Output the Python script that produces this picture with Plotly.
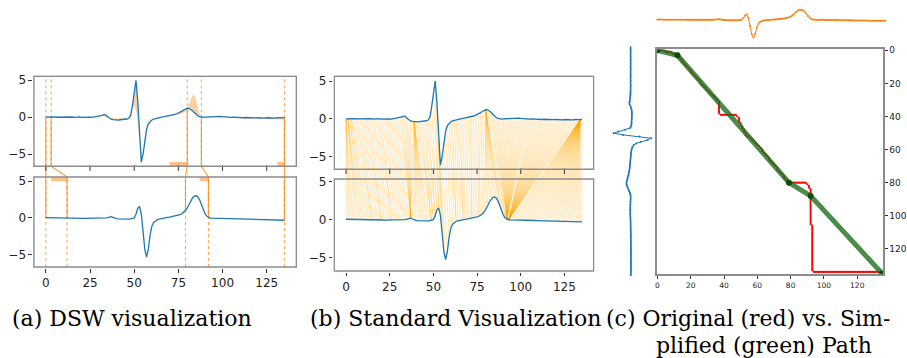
import numpy as np
import plotly.graph_objects as go

# ---------------- data ----------------
series_a = [0.0, 0.02, -0.03, 0.01, -0.02, 0.03, -0.01, 0.0, -0.04, 0.02,
            -0.02, 0.01, 0.03, -0.03, 0.0, 0.02, -0.02, 0.01, -0.01, 0.03,
            -0.02, 0.0, 0.02, -0.03, 0.01, 0.0, -0.02, 0.02, 0.04, 0.06,
            0.1, 0.17, 0.25, 0.38, 0.3, 0.05, -0.15, -0.28, -0.33, -0.38,
            -0.36, -0.4, -0.35, -0.33, -0.3, -0.32, -0.25, -0.15, 0.2, 1.6,
            3.6, 5.0, 2.2, -2.6, -6.1, -5.0, -3.0, -1.6, -0.9, -0.55,
            -0.38, -0.25, -0.18, -0.1, -0.08, -0.02, 0.03, 0.06, 0.1, 0.15,
            0.2, 0.26, 0.3, 0.38, 0.46, 0.55, 0.68, 0.82, 0.97, 1.12,
            1.22, 1.2, 1.08, 0.88, 0.62, 0.38, 0.18, 0.06, 0.0, -0.03,
            0.01, 0.03, 0.05, 0.06, 0.1, 0.12, 0.1, 0.13, 0.09, 0.11,
            0.07, 0.04, 0.06, 0.02, 0.0, -0.03, 0.01, -0.02, -0.05, -0.03,
            -0.06, -0.04, -0.08, -0.05, -0.07, -0.1, -0.06, -0.09, -0.07, -0.1,
            -0.08, -0.11, -0.07, -0.1, -0.12, -0.08, -0.1, -0.07, -0.11, -0.09,
            -0.12, -0.08, -0.1, -0.06, -0.09, -0.02]

series_b = [0.05, 0.05, 0.04, 0.04, 0.03, 0.03, 0.02, 0.02, 0.01, 0.01,
            0.0, 0.0, -0.01, -0.01, -0.02, -0.02, -0.03, -0.03, -0.04, -0.04,
            -0.05, -0.05, -0.06, -0.06, -0.07, -0.07, -0.07, -0.08, -0.08, -0.08,
            -0.08, -0.07, -0.06, -0.04, 0.0, 0.05, 0.12, 0.18, 0.08, -0.05,
            -0.1, -0.13, -0.15, -0.16, -0.17, -0.17, -0.17, -0.16, -0.14, -0.1,
            0.0, 0.5, 1.3, 1.55, 0.6, -1.8, -4.3, -5.3, -4.2, -2.3,
            -1.1, -0.6, -0.38, -0.25, -0.17, -0.1, -0.05, 0.0, 0.03, 0.07,
            0.1, 0.14, 0.18, 0.23, 0.28, 0.35, 0.44, 0.56, 0.75, 1.0,
            1.35, 1.8, 2.3, 2.7, 2.95, 3.0, 2.85, 2.45, 1.85, 1.15,
            0.6, 0.25, 0.06, -0.02, -0.04, -0.04, -0.03, -0.03, -0.03, -0.04,
            -0.04, -0.05, -0.06, -0.07, -0.08, -0.09, -0.1, -0.11, -0.12, -0.13,
            -0.14, -0.15, -0.16, -0.17, -0.18, -0.19, -0.2, -0.2, -0.21, -0.22,
            -0.23, -0.23, -0.24, -0.25, -0.25, -0.26, -0.27, -0.27, -0.28, -0.28,
            -0.29, -0.29, -0.3, -0.3, -0.3, -0.31]

# warping path: index into series_a (path_a) paired with index into series_b (path_b)
path_a = [0, 0, 0, 0, 0, 1, 1, 1, 1, 2, 2, 3, 3,
          4, 5, 6, 7, 8, 9, 10, 11, 12, 13, 14, 15, 16, 17, 18, 19, 20, 21, 22, 23, 24, 25, 26, 27, 28, 29, 30, 31,
          32, 33, 34, 35, 36, 37, 38,
          39, 39, 39, 39, 39, 39, 39, 39, 39, 39,
          40, 41, 42, 43, 44, 45, 46,
          47, 48, 49, 50, 51, 52, 52, 53, 54, 55, 56, 57, 58,
          59, 60, 61, 62, 63, 64, 65, 66, 67, 68, 69, 70, 71, 72, 73, 74, 75, 76, 77, 78, 79, 80,
          80, 80, 80, 80, 80, 80, 80, 80, 80, 80,
          81, 82, 83, 84,
          85, 86, 87, 88, 89, 90, 91, 92, 93, 94, 95, 96, 97, 98, 99, 100, 101, 102, 103, 104, 105,
          106, 107, 108, 109, 110, 111, 112, 113, 114, 115, 116, 117, 118, 119, 120, 121, 122, 123, 124, 125,
          126, 127, 128, 129, 130, 131, 132, 133,
          134, 134, 134, 134, 134, 134, 134, 134, 134, 134, 134, 134, 134, 134, 134, 134, 134, 134, 134, 134,
          134, 134, 134, 134, 134, 134, 134, 134, 134, 134, 134, 134, 134, 134, 134, 134, 134, 134, 134, 134, 134,
          135]
path_b = [0, 1, 2, 3, 4, 5, 6, 7, 8, 9, 10, 11, 12,
          13, 14, 15, 15, 16, 17, 18, 19, 20, 20, 21, 22, 23, 24, 25, 26, 26, 27, 28, 29, 30, 31, 32, 33, 34, 35, 36, 37,
          37, 37, 37, 37, 37, 37, 37,
          38, 39, 40, 41, 42, 43, 44, 45, 46, 47,
          48, 49, 49, 49, 50, 50, 51,
          51, 52, 52, 53, 53, 54, 55, 56, 57, 58, 59, 60, 61,
          62, 63, 63, 64, 65, 66, 67, 67, 68, 69, 70, 71, 72, 72, 73, 74, 75, 76, 76, 77, 78, 79,
          80, 81, 82, 83, 84, 85, 86, 87, 88, 89,
          90, 91, 91, 92,
          92, 92, 92, 92, 92, 92, 92, 92, 92, 92, 92, 92, 92, 92, 92, 92, 92, 92, 92, 92, 92,
          93, 93, 93, 93, 93, 93, 93, 93, 93, 93, 93, 93, 93, 93, 93, 93, 93, 93, 93, 93,
          93, 93, 93, 93, 93, 93, 93, 93,
          94, 95, 96, 97, 98, 99, 100, 101, 102, 103, 104, 105, 106, 107, 108, 109, 110, 111, 112, 113,
          114, 115, 116, 117, 118, 119, 120, 121, 122, 123, 124, 125, 126, 127, 128, 129, 130, 131, 132, 133, 134,
          135]

# simplified path vertices (index into a, index into b)
simp_a = [0, 3, 80, 88, 135]
simp_b = [0, 12, 79, 92, 135]

xticks_ab = [0, 25, 50, 75, 100, 125]
yticks_ab = [-5, 0, 5]
yticklabels_ab = ["\u22125", "0", "5"]
ticks_c = [0, 20, 40, 60, 80, 100, 120]
captions = ["(a) DSW visualization", "(b) Standard Visualization",
            "(c) Original (red) vs. Sim-", "plified (green) Path"]

assert len(series_a) == 136 and len(series_b) == 136 and len(path_a) == len(path_b)

# ---------------- layout helpers ----------------
W, H = 907, 358
BLUE = "#1f77b4"
ORANGE_L = "rgba(255,127,14,0.75)"
FRAME = "#8c8c8c"
TICKFONT = dict(family="DejaVu Sans", size=12, color="#222")


def axis_geom(p0, p1, d0, d1, pad=1.0, vertical=False):
    """frame in pixels p0..p1 shows data d0..d1; add pad pixels each side"""
    s = (p1 - p0) / (d1 - d0)
    rng = [d0 - pad / s, d1 + pad / s]
    if vertical:  # p0 = top pixel (d1 value at top)
        dom = [1 - (p1 + pad) / H, 1 - (p0 - pad) / H]
    else:
        dom = [(p0 - pad) / W, (p1 + pad) / W]
    return dom, rng


fig = go.Figure()
shapes = []

xa = np.arange(len(series_a))
xb = np.arange(len(series_b))
A = np.array(series_a)
B = np.array(series_b)

# ================= panel (a) DSW =================
OFF_A = 13.65
A_BOT = (-6.65, 5.55)
A_TOP = (7.0, 19.2)
domx_a, rngx_a = axis_geom(32, 295, -6.75, 141.75)
domy_a, rngy_a = axis_geom(73, 266, -6.65, 19.2, vertical=True)

# fill between top series and warped bottom series
xw = np.interp(xb, simp_b, simp_a)
poly_x = list(xa) + list(xw[::-1])
poly_y = list(A + OFF_A) + list((B + OFF_A)[::-1])
fig.add_trace(go.Scatter(x=poly_x, y=poly_y, fill="toself", mode="lines",
                         line=dict(width=0), fillcolor="rgba(255,150,60,0.45)",
                         xaxis="x", yaxis="y", hoverinfo="skip", showlegend=False))

# bands showing extra length of the longer side in each segment
for k in range(len(simp_a) - 1):
    da = simp_a[k + 1] - simp_a[k]
    db = simp_b[k + 1] - simp_b[k]
    if da > db:
        bx = [simp_a[k + 1] - (da - db), simp_a[k + 1]]
        by = [A_TOP[0] + 0.3] * 2
    else:
        bx = [simp_b[k + 1] - (db - da), simp_b[k + 1]]
        by = [A_BOT[1] - 0.3] * 2
    fig.add_trace(go.Scatter(x=bx, y=by, mode="lines",
                             line=dict(color="rgba(255,140,40,0.55)", width=4),
                             xaxis="x", yaxis="y", hoverinfo="skip", showlegend=False))

# dotted full-height lines and solid connectors
for ia, jb in zip(simp_a, simp_b):
    fig.add_trace(go.Scatter(x=[ia, ia], y=[A_TOP[0], A_TOP[1]], mode="lines",
                             line=dict(color=ORANGE_L, width=1, dash="dot"),
                             xaxis="x", yaxis="y", hoverinfo="skip", showlegend=False))
    fig.add_trace(go.Scatter(x=[jb, jb], y=[A_BOT[0], A_BOT[1]], mode="lines",
                             line=dict(color=ORANGE_L, width=1, dash="dot"),
                             xaxis="x", yaxis="y", hoverinfo="skip", showlegend=False))
    fig.add_trace(go.Scatter(x=[ia, ia, jb, jb],
                             y=[A[ia] + OFF_A, A_TOP[0], A_BOT[1], B[jb]], mode="lines",
                             line=dict(color=ORANGE_L, width=1.2),
                             xaxis="x", yaxis="y", hoverinfo="skip", showlegend=False))

fig.add_trace(go.Scatter(x=xa, y=A + OFF_A, mode="lines", line=dict(color=BLUE, width=1.3),
                         xaxis="x", yaxis="y", hoverinfo="skip", showlegend=False))
fig.add_trace(go.Scatter(x=xb, y=B, mode="lines", line=dict(color=BLUE, width=1.3),
                         xaxis="x", yaxis="y", hoverinfo="skip", showlegend=False))
# small x tick marks below the upper frame
fig.add_trace(go.Scatter(x=xticks_ab, y=[A_TOP[0] - 0.25] * len(xticks_ab), mode="markers",
                         marker=dict(symbol="line-ns", size=4, line=dict(width=1, color="#333")),
                         xaxis="x", yaxis="y", hoverinfo="skip", showlegend=False))
for (y0, y1) in (A_BOT, A_TOP):
    shapes.append(dict(type="rect", xref="x", yref="y", x0=-6.75, x1=141.75, y0=y0, y1=y1,
                       line=dict(color=FRAME, width=1.4), layer="above"))

# ================= panel (b) standard =================
OFF_B = 13.33
B_BOT = (-6.8, 5.37)
B_TOP = (6.66, 18.98)
domx_b, rngx_b = axis_geom(333, 593, -6.75, 141.75)
domy_b, rngy_b = axis_geom(73, 270, -6.8, 18.98, vertical=True)

for ia, jb in zip(path_a, path_b):
    shapes.append(dict(type="line", xref="x2", yref="y2", x0=ia, y0=A[ia] + OFF_B,
                       x1=jb, y1=B[jb], line=dict(color="rgba(255,165,0,0.3)", width=0.9),
                       layer="below"))
fig.add_trace(go.Scatter(x=xa, y=A + OFF_B, mode="lines", line=dict(color=BLUE, width=1.3),
                         xaxis="x2", yaxis="y2", hoverinfo="skip", showlegend=False))
fig.add_trace(go.Scatter(x=xb, y=B, mode="lines", line=dict(color=BLUE, width=1.3),
                         xaxis="x2", yaxis="y2", hoverinfo="skip", showlegend=False))
fig.add_trace(go.Scatter(x=xticks_ab, y=[B_TOP[0] - 0.25] * len(xticks_ab), mode="markers",
                         marker=dict(symbol="line-ns", size=4, line=dict(width=1, color="#333")),
                         xaxis="x2", yaxis="y2", hoverinfo="skip", showlegend=False))
for (y0, y1) in (B_BOT, B_TOP):
    shapes.append(dict(type="rect", xref="x2", yref="y2", x0=-6.75, x1=141.75, y0=y0, y1=y1,
                       line=dict(color=FRAME, width=1.4), layer="above"))

# ================= panel (c) paths =================
fig.add_trace(go.Scatter(x=path_b, y=path_a, mode="lines+markers",
                         line=dict(color="red", width=1), marker=dict(color="red", size=2.2),
                         xaxis="x3", yaxis="y3", hoverinfo="skip", showlegend=False))
fig.add_trace(go.Scatter(x=simp_b, y=simp_a, mode="lines+markers",
                         line=dict(color="rgba(30,110,30,0.8)", width=5),
                         marker=dict(color="#0d4d0d", size=6),
                         xaxis="x3", yaxis="y3", hoverinfo="skip", showlegend=False))
# top marginal (series b)
fig.add_trace(go.Scatter(x=xb, y=B, mode="lines+markers",
                         line=dict(color="#ff7f0e", width=1), marker=dict(color="#ff7f0e", size=2),
                         xaxis="x4", yaxis="y4", hoverinfo="skip", showlegend=False))
# left marginal (series a)
fig.add_trace(go.Scatter(x=A, y=xa, mode="lines+markers",
                         line=dict(color=BLUE, width=1), marker=dict(color=BLUE, size=2),
                         xaxis="x5", yaxis="y5", hoverinfo="skip", showlegend=False))

domx_c, rngx_c = axis_geom(656, 883, -0.5, 135.5, pad=0)
domy_c, rngy_c = axis_geom(46, 273.5, -0.5, 135.5, pad=0, vertical=True)
domx_t, rngx_t = axis_geom(656, 886, 0, 135, pad=0)
domy_t, rngy_t = axis_geom(2, 37, -6.2, 4.1, pad=0, vertical=True)
domx_l, rngx_l = axis_geom(608, 652, -6.47, 6.47, pad=0)
domy_l, rngy_l = axis_geom(43, 275, 0, 135, pad=0, vertical=True)

# captions
cap_pos = [(8, 318), (307, 318), (603, 318), (653, 345)]
annotations = []
for txt, (px, py) in zip(captions, cap_pos):
    annotations.append(dict(text=txt, x=px / W, y=1 - py / H, xref="paper", yref="paper",
                            xanchor="left", yanchor="middle", showarrow=False,
                            font=dict(family="DejaVu Serif", size=22, color="black")))

hidden = dict(visible=False, showgrid=False, zeroline=False)
fig.update_layout(
    width=W, height=H, margin=dict(l=0, r=0, t=0, b=0),
    paper_bgcolor="white", plot_bgcolor="white", showlegend=False,
    shapes=shapes, annotations=annotations,
    xaxis=dict(domain=domx_a, range=rngx_a, tickvals=xticks_ab, ticks="outside", ticklen=3.5,
               anchor="y", tickcolor="#333", showgrid=False, zeroline=False, showline=False,
               tickfont=TICKFONT),
    yaxis=dict(domain=domy_a, range=rngy_a, tickvals=yticks_ab + [v + OFF_A for v in yticks_ab],
               anchor="x", ticktext=yticklabels_ab * 2, ticks="outside", ticklen=3.5,
               tickcolor="#333", showgrid=False, zeroline=False, showline=False, tickfont=TICKFONT),
    xaxis2=dict(domain=domx_b, range=rngx_b, tickvals=xticks_ab, ticks="outside", ticklen=3.5,
                anchor="y2", tickcolor="#333", showgrid=False, zeroline=False, showline=False,
                tickfont=TICKFONT),
    yaxis2=dict(domain=domy_b, range=rngy_b, tickvals=yticks_ab + [v + OFF_B for v in yticks_ab],
                anchor="x2", ticktext=yticklabels_ab * 2, ticks="outside", ticklen=3.5,
                tickcolor="#333", showgrid=False, zeroline=False, showline=False, tickfont=TICKFONT),
    xaxis3=dict(domain=domx_c, range=rngx_c, tickvals=ticks_c, ticks="outside", ticklen=2.5,
                tickcolor="#333", showgrid=False, zeroline=False, showline=True, mirror=True,
                linecolor=FRAME, linewidth=2, anchor="y3",
                tickfont=dict(family="DejaVu Sans", size=7.5, color="#222")),
    yaxis3=dict(domain=domy_c, range=rngy_c[::-1], tickvals=ticks_c, ticks="outside", ticklen=2.5,
                side="right", tickcolor="#333", showgrid=False, zeroline=False, showline=True,
                mirror=True, linecolor=FRAME, linewidth=2, anchor="x3",
                tickfont=dict(family="DejaVu Sans", size=9, color="#222")),
    xaxis4=dict(domain=domx_t, range=rngx_t, anchor="y4", **hidden),
    yaxis4=dict(domain=domy_t, range=rngy_t, anchor="x4", **hidden),
    xaxis5=dict(domain=domx_l, range=rngx_l[::-1], anchor="y5", **hidden),
    yaxis5=dict(domain=domy_l, range=rngy_l[::-1], anchor="x5", **hidden),
)

fig.write_html("out.html", config={"displayModeBar": False},
               post_script="document.body.style.margin='0px';"
                           "document.body.style.overflow='hidden';")
